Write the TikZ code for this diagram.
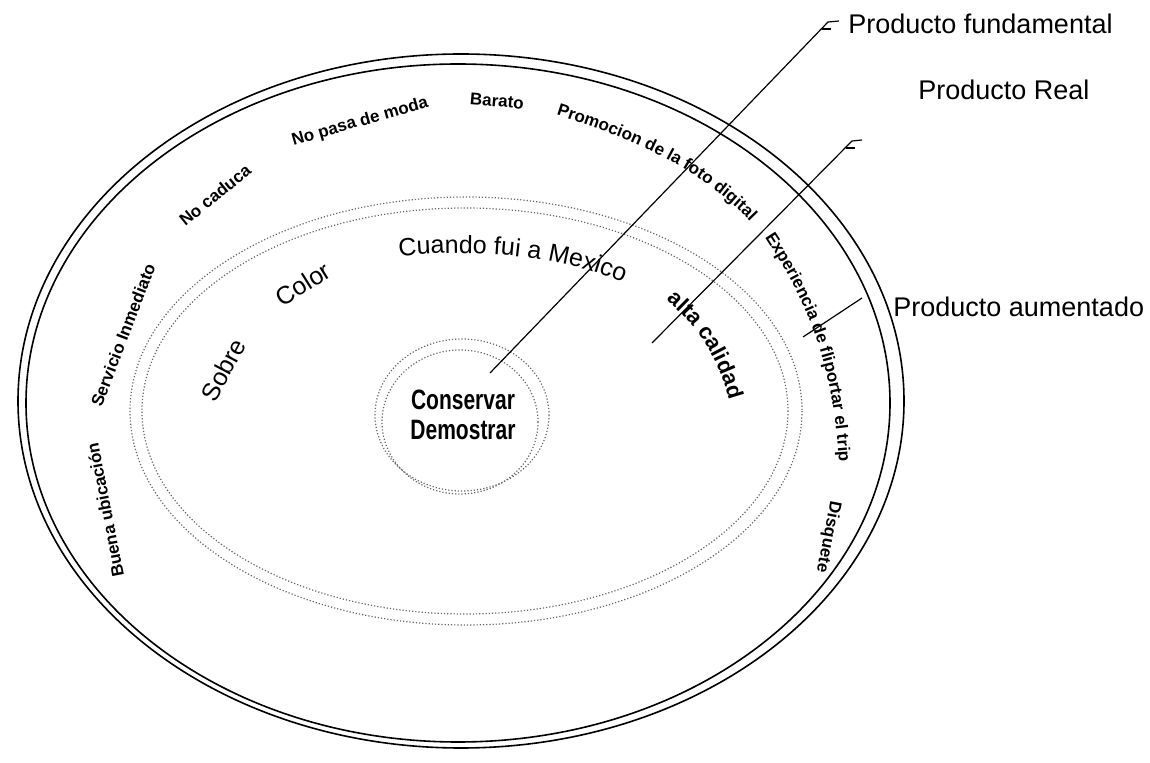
\documentclass[tikz,border=0pt]{standalone}
\usepackage{fontspec}
\setmainfont{Liberation Sans}
\usetikzlibrary{decorations.text}
\begin{document}
\begin{tikzpicture}[x=0.5pt,y=-0.5pt,
  ring/.style={line width=0.8pt},
  dotring/.style={black!60, densely dotted, line width=0.6pt},
  lead/.style={line width=0.6pt},
  small/.style={font=\bfseries\fontsize{8.5}{10}\selectfont, inner sep=0pt},
  mid/.style={font=\fontsize{12.5}{14}\selectfont, inner sep=0pt},
  lab/.style={font=\fontsize{13.5}{16}\selectfont, anchor=west, inner sep=0pt},
  arctext/.style={decorate, decoration={text along path, text align=center, text={#1}}}]
\useasboundingbox (0,0) rectangle (1150,763);
% outer rings
\draw[ring] (461,401) ellipse [x radius=443, y radius=347];
\draw[ring] (458,403) ellipse [x radius=432, y radius=339];
% dotted middle rings
\draw[dotring] (466,411) ellipse [x radius=336, y radius=214];
\draw[dotring] (465,411) ellipse [x radius=323, y radius=203];
% centre circles
\draw[dotring] (462,415) ellipse [x radius=87, y radius=76];
\draw[dotring] (460,422) ellipse [x radius=78, y radius=72];
\node[inner sep=0pt, align=center, font=\bfseries\fontsize{14}{15}\selectfont] (core) at (463,415)
  {\scalebox{0.75}[1]{Conservar}\\\scalebox{0.75}[1]{Demostrar}};
% outer ring texts
\node[small, rotate=39] (t1) at (215,195) {No caduca};
\node[small, rotate=16] (t2) at (360,122) {No pasa de moda};
\node[small, rotate=-5] (t3) at (497,101) {Barato};
\path[arctext={|\bfseries\fontsize{8.5}{10}\selectfont|Promocion de la foto digital}]
  (535,108) .. controls (640,140) and (710,172) .. (765,238);
\path[arctext={|\bfseries\fontsize{8.5}{10}\selectfont|Experiencia de fliportar el trip}]
  (755,222) .. controls (800,290) and (835,350) .. (840,480);
\node[small, rotate=-101] (t6) at (828,537) {Disquete};
\node[small, rotate=69] (t7) at (123,335) {Servicio Inmediato};
\node[small, rotate=101] (t8) at (105,510) {Buena ubicación};
% middle ring texts
\node[mid, rotate=62] (m1) at (223,370) {Sobre};
\node[mid, rotate=32] (m2) at (303,284) {Color};
\path[arctext={|\fontsize{12.5}{14}\selectfont|Cuando fui a Mexico}]
  (392,257) .. controls (470,249) and (550,252) .. (630,285);
\path[arctext={|\bfseries\fontsize{11}{12}\selectfont|alta calidad}]
  (655,290) .. controls (690,318) and (718,348) .. (733,415);
% labels
\node[lab] (lf) at (848,24) {Producto fundamental};
\node[lab] (lr) at (918,90) {Producto Real};
\node[lab] (la) at (893,307) {Producto aumentado};
% leader lines
\coordinate (f1) at (490,373);
\coordinate (f2) at (828,22);
\coordinate (r1) at (652,343);
\coordinate (r2) at (852,141);
\coordinate (a1) at (803,337);
\coordinate (a2) at (862,298);
\draw[lead] (f1) -- (f2) -- ++(11,-1);
\draw[lead] ([shift={(-6,7)}]f2) -- ++(9,0);
\draw[lead] (r1) -- (r2) -- ++(10,-1);
\draw[lead] ([shift={(-6,7)}]r2) -- ++(9,0);
\draw[lead] (a1) -- (a2);
\end{tikzpicture}
\end{document}
